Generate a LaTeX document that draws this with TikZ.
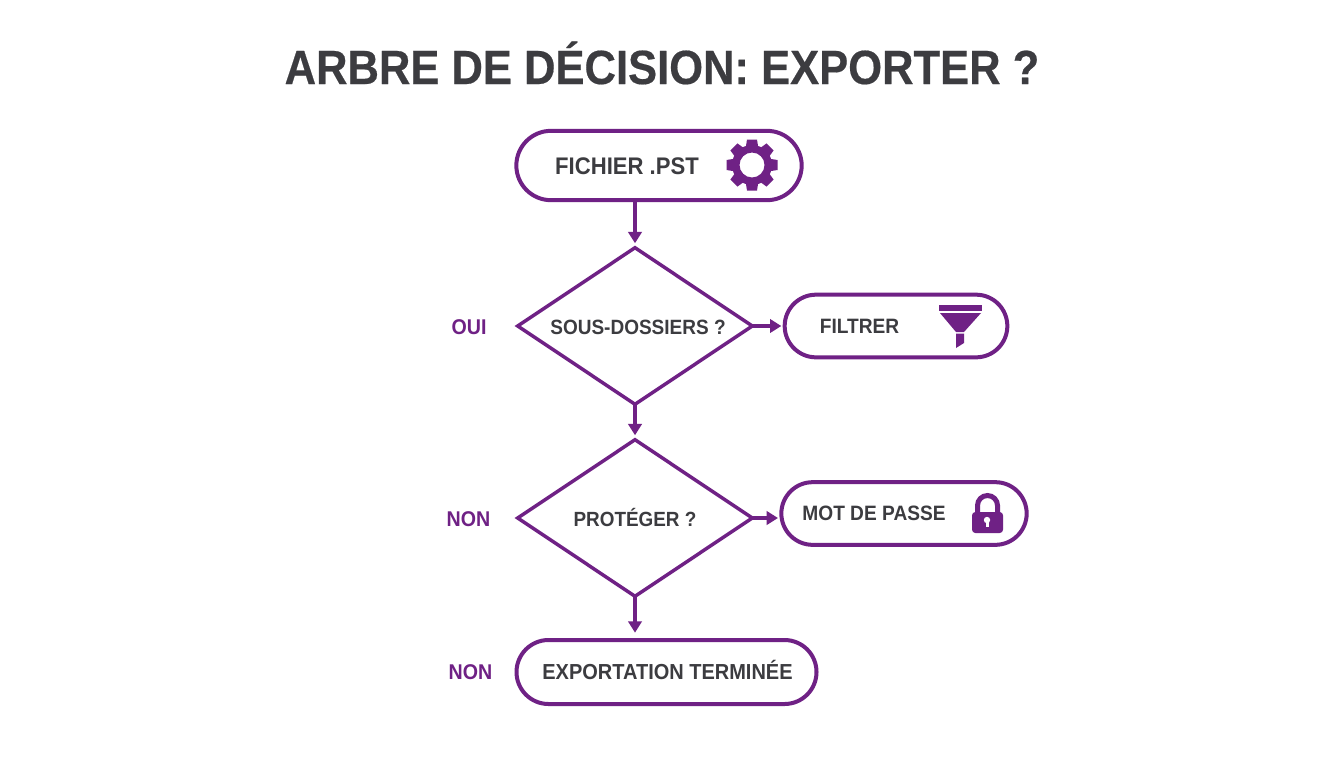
\documentclass[tikz,border=0pt]{standalone}
\usepackage{fontspec}
\setmainfont{Liberation Sans}[BoldFont={Liberation Sans Bold}]
\newfontfamily\narrowbold{Liberation Sans Bold}[FakeStretch=0.92]
\newfontfamily\titlebold{Liberation Sans Bold}[FakeStretch=0.907,FakeBold=0.4]
\usetikzlibrary{shapes.geometric,shapes.misc,arrows.meta}
\definecolor{plum}{HTML}{6F2185}
\definecolor{ink}{HTML}{3C3C40}
\tikzset{
  pill/.style={rounded rectangle,draw=plum,line width=3pt,fill=white,inner sep=0pt},
  choice/.style={diamond,draw=plum,line width=2.6pt,fill=white,inner sep=0pt,shape aspect=1.49},
  pilltext/.style={text=ink,inner sep=0pt,anchor=base},
  answer/.style={text=plum,inner sep=0pt,anchor=base,font=\narrowbold\fontsize{16}{18}\selectfont},
  link/.style={draw=plum,line width=2.6pt,-{Triangle[width=10pt,length=8.5pt]}},
  icon/.style={fill=plum,draw=none},
}
\begin{document}
\begin{tikzpicture}[x=0.75pt,y=-0.75pt]
\useasboundingbox (0,0) rectangle (1344,768);
\fill[white] (0,0) rectangle (1344,768);
\node[text=ink,inner sep=0pt,anchor=base,font=\titlebold\fontsize{36}{40}\selectfont] (title) at (662,84) {ARBRE DE DÉCISION: EXPORTER ?};

\node[pill,minimum width=214pt,minimum height=52pt] (pst) at (659,165.5) {};
\node[choice,minimum width=177pt,minimum height=118.5pt] (q1) at (635,326) {};
\node[pill,minimum width=167pt,minimum height=47pt] (filt) at (896,326) {};
\node[choice,minimum width=177pt,minimum height=118.5pt] (q2) at (635,518) {};
\node[pill,minimum width=184pt,minimum height=47pt] (pass) at (904,513.5) {};
\node[pill,minimum width=225pt,minimum height=48pt] (done) at (666.5,672) {};

\node[pilltext,font=\narrowbold\fontsize{18}{20}\selectfont] (tpst) at (627,174.5) {FICHIER .PST};
\node[pilltext,font=\narrowbold\fontsize{15.6}{18}\selectfont] (tfilt) at (859.5,333) {FILTRER};
\node[pilltext,font=\narrowbold\fontsize{15.6}{18}\selectfont] (tpass) at (874,520.5) {MOT DE PASSE};
\node[pilltext,font=\narrowbold\fontsize{16.3}{18}\selectfont] (tdone) at (667.5,679) {EXPORTATION TERMINÉE};
\node[pilltext,font=\narrowbold\fontsize{15.5}{18}\selectfont] (tq1) at (638,334.5) {SOUS-DOSSIERS ?};
\node[pilltext,font=\narrowbold\fontsize{15.4}{18}\selectfont] (tq2) at (635,526.5) {PROTÉGER ?};

\node[answer] (oui) at (469,334.5) {OUI};
\node[answer] (non1) at (468.5,526.5) {NON};
\node[answer] (non2) at (470.5,679) {NON};

\draw[link,shorten >=1.5pt] (pst.south -| q1.north) -- (q1.north);
\draw[link,shorten >=1.5pt,shorten <=-2pt] (q1.south) -- (q2.north);
\draw[link,shorten >=1pt,shorten <=-2pt] (q1.east) -- (filt.west);
\draw[link,shorten >=1pt,shorten <=-2pt] (q2.east) -- (q2.east -| pass.west);
\draw[link,shorten >=4pt,shorten <=-2pt] (q2.south) -- (q2.south |- done.north);

% gear
\begin{scope}[shift={(752,165)}]
  \foreach \a in {0,45,...,315}
    \fill[icon,rotate=\a] (-5,-25.5) -- (5,-25.5) -- (6.5,-16) -- (-6.5,-16) -- cycle;
  \fill[icon,even odd rule] (0,0) circle[radius=20] (0,0) circle[radius=12.5];
\end{scope}
% funnel
\fill[icon] (939,305) rectangle (982,311);
\fill[icon] (940,313) -- (981,313) -- (964,332) -- (956,332) -- cycle;
\fill[icon] (956,333.5) -- (964,333.5) -- (964,343) -- (956,348) -- cycle;
% lock
\draw[plum,line width=3.75pt] (977.5,514) -- (977.5,505.5) arc[start angle=180,end angle=360,radius=10] -- (997.5,514);
\fill[icon,rounded corners=2.5pt] (972,512) rectangle (1003,533);
\fill[white] (987,520) circle[radius=3.2];
\fill[white] (985.5,520) rectangle (988.5,527);
\end{tikzpicture}
\end{document}
